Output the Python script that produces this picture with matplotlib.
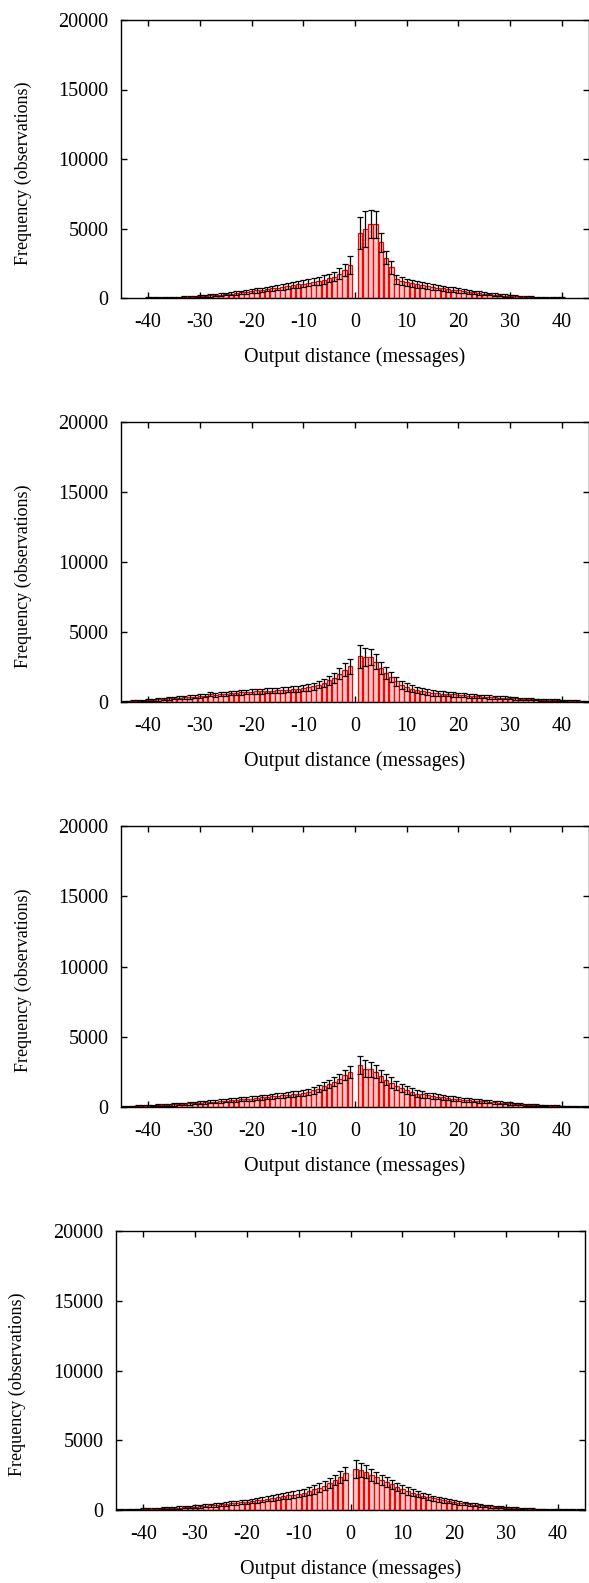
import numpy as np
import matplotlib
matplotlib.use("Agg")
import matplotlib.pyplot as plt

plt.rcParams['font.family'] = ['Liberation Serif', 'DejaVu Serif']
plt.rcParams['axes.unicode_minus'] = False

# ---- data ----
# panel 1 covers -40..40, panels 2-4 cover -45..45; no bar at 0
p1_neg = [0, 0, 0, 5, 10, 20, 35, 50, 70, 90,
          120, 150, 180, 210, 240, 280, 320, 360, 400, 440,
          490, 540, 590, 640, 690, 740, 800, 860, 920, 980,
          1040, 1100, 1160, 1240, 1330, 1430, 1540, 1750, 2000, 2380]
p1_pos = [4700, 4950, 5300, 5300, 4000, 2900, 2200, 1350, 1200, 1120,
          1050, 980, 920, 860, 800, 740, 690, 640, 590, 540,
          490, 440, 400, 360, 320, 280, 240, 200, 170, 140,
          110, 90, 70, 50, 35, 25, 15, 10, 5, 0]
p1_err_neg = [60, 60, 60, 60, 60, 60, 60, 60, 70, 70,
              80, 80, 90, 90, 100, 100, 110, 110, 120, 130,
              140, 150, 160, 170, 180, 190, 200, 210, 220, 230,
              240, 250, 260, 270, 290, 310, 340, 380, 450, 650]
p1_err_pos = [1150, 1300, 1000, 950, 700, 460, 440, 320, 280, 260,
              250, 240, 230, 220, 210, 200, 190, 180, 170, 160,
              150, 140, 130, 120, 110, 100, 95, 90, 85, 80,
              75, 70, 65, 60, 60, 60, 60, 60, 60, 60]

p2_neg = [30, 40, 60, 80, 100, 120, 150, 180, 210, 260,
          270, 300, 330, 360, 390, 420, 450, 560, 520, 560,
          590, 620, 650, 680, 700, 740, 760, 780, 800, 820,
          840, 860, 890, 920, 950, 990, 1050, 1120, 1240, 1360,
          1550, 1710, 2020, 2310, 2550]
p2_pos = [3260, 3210, 3200, 2880, 2430, 2070, 1790, 1480, 1240, 1070,
          960, 850, 770, 700, 650, 610, 590, 570, 540, 520,
          480, 450, 420, 400, 380, 360, 340, 320, 300, 280,
          260, 240, 220, 200, 180, 160, 150, 130, 120, 100,
          90, 70, 55, 40, 30]
p2_err_neg = [60, 60, 60, 60, 60, 70, 70, 80, 80, 90,
              90, 100, 100, 110, 110, 120, 120, 130, 130, 140,
              140, 150, 150, 160, 160, 170, 170, 180, 180, 190,
              190, 200, 200, 210, 220, 230, 240, 250, 270, 300,
              330, 360, 400, 450, 550]
p2_err_pos = [800, 620, 560, 520, 450, 420, 380, 330, 290, 260,
              240, 220, 210, 200, 190, 180, 170, 160, 150, 140,
              135, 130, 125, 120, 115, 110, 105, 100, 95, 90,
              85, 80, 75, 70, 70, 65, 65, 60, 60, 60,
              60, 60, 60, 60, 60]

p3_neg = [20, 30, 40, 55, 70, 85, 100, 120, 140, 160,
          180, 200, 225, 250, 275, 300, 330, 360, 390, 420,
          450, 480, 510, 540, 570, 600, 640, 680, 720, 760,
          800, 840, 880, 920, 960, 1000, 1090, 1190, 1310, 1480,
          1620, 1790, 2020, 2260, 2500]
p3_pos = [2980, 2720, 2670, 2500, 2190, 1950, 1740, 1520, 1360, 1190,
          1070, 960, 890, 830, 780, 730, 680, 640, 600, 560,
          520, 490, 460, 430, 400, 370, 340, 310, 280, 250,
          220, 190, 170, 150, 130, 110, 95, 80, 65, 50,
          40, 30, 20, 15, 10]
p3_err_neg = [50, 50, 50, 55, 55, 60, 60, 65, 65, 70,
              75, 80, 85, 90, 95, 100, 105, 110, 115, 120,
              125, 130, 135, 140, 145, 150, 155, 160, 165, 170,
              175, 180, 185, 190, 195, 200, 215, 230, 250, 270,
              290, 310, 340, 370, 420]
p3_err_pos = [620, 600, 560, 460, 430, 400, 360, 330, 300, 270,
              250, 230, 215, 200, 190, 180, 170, 160, 150, 140,
              130, 125, 120, 115, 110, 105, 100, 95, 90, 85,
              80, 75, 70, 65, 60, 60, 55, 55, 50, 50,
              50, 50, 50, 50, 50]

p4_neg = [10, 15, 20, 30, 40, 50, 65, 80, 95, 110,
          130, 150, 175, 200, 225, 250, 280, 310, 340, 370,
          400, 440, 480, 520, 560, 600, 650, 700, 750, 800,
          860, 920, 980, 1050, 1100, 1150, 1240, 1360, 1480, 1600,
          1740, 1910, 2150, 2340, 2630]
p4_pos = [2940, 2870, 2750, 2510, 2340, 2150, 1980, 1840, 1670, 1510,
          1360, 1240, 1150, 1030, 930, 840, 760, 690, 630, 570,
          520, 470, 420, 380, 340, 300, 260, 230, 200, 170,
          140, 120, 100, 80, 65, 50, 40, 30, 25, 20,
          15, 10, 10, 5, 5]
p4_err_neg = [50, 50, 50, 55, 55, 60, 60, 65, 65, 70,
              75, 80, 85, 90, 95, 100, 105, 110, 115, 120,
              125, 130, 135, 140, 145, 150, 160, 170, 180, 190,
              200, 210, 220, 230, 240, 250, 265, 280, 300, 320,
              340, 360, 380, 420, 450]
p4_err_pos = [620, 520, 480, 440, 400, 380, 350, 320, 300, 280,
              260, 240, 220, 200, 190, 180, 170, 160, 150, 140,
              130, 120, 110, 100, 95, 90, 85, 80, 75, 70,
              65, 60, 60, 55, 55, 50, 50, 50, 50, 50,
              50, 50, 50, 50, 50]

panels = [
    (40, p1_neg, p1_pos, p1_err_neg, p1_err_pos),
    (45, p2_neg, p2_pos, p2_err_neg, p2_err_pos),
    (45, p3_neg, p3_pos, p3_err_neg, p3_err_pos),
    (45, p4_neg, p4_pos, p4_err_neg, p4_err_pos),
]

x_ticks = [-40, -30, -20, -10, 0, 10, 20, 30, 40]
y_ticks = [0, 5000, 10000, 15000, 20000]

# axes boxes in pixels: left, right, top, bottom
boxes = [(121, 589, 20, 298), (121, 589, 422, 702),
         (121, 589, 826, 1107), (116, 585, 1231, 1510)]
ylabel_x = [23, 23, 23, 17]

W, H = 589, 1583
fig = plt.figure(figsize=(W / 100, H / 100), dpi=100)

for (n, neg, pos, eneg, epos), (l, r, t, b), ylx in zip(panels, boxes, ylabel_x):
    ax = fig.add_axes([l / W, 1 - b / H, (r - l) / W, (b - t) / H])
    x = np.concatenate([np.arange(-n, 0), np.arange(1, n + 1)])
    y = np.array(neg + pos)
    err = np.array(eneg + epos)

    ax.bar(x, y, width=0.9, color='#ffc8c8', edgecolor='#ff0000',
           linewidth=0.9, zorder=2)
    ax.errorbar(x, y, yerr=err, fmt='none', ecolor='black',
                elinewidth=0.9, capsize=2, capthick=0.9, zorder=3)

    ax.set_xlim(-45.25, 45.25)
    ax.set_ylim(0, 20000)
    ax.set_xticks(x_ticks)
    ax.set_yticks(y_ticks)
    ax.tick_params(direction='in', top=True, right=True, length=4,
                   width=1, labelsize=14.5)
    ax.tick_params(axis='x', pad=11)
    ax.tick_params(axis='y', pad=9)
    for s in ax.spines.values():
        s.set_linewidth(1.0)
        s.set_zorder(4)

    fig.text(((l + r) / 2) / W, 1 - (b + 59) / H, 'Output distance (messages)',
             ha='center', va='center', fontsize=14.5)
    fig.text(ylx / W, 1 - ((t + b) / 2 + 14) / H, 'Frequency (observations)',
             ha='center', va='center', rotation=90, fontsize=13)

fig.savefig('out.png', dpi=100)
